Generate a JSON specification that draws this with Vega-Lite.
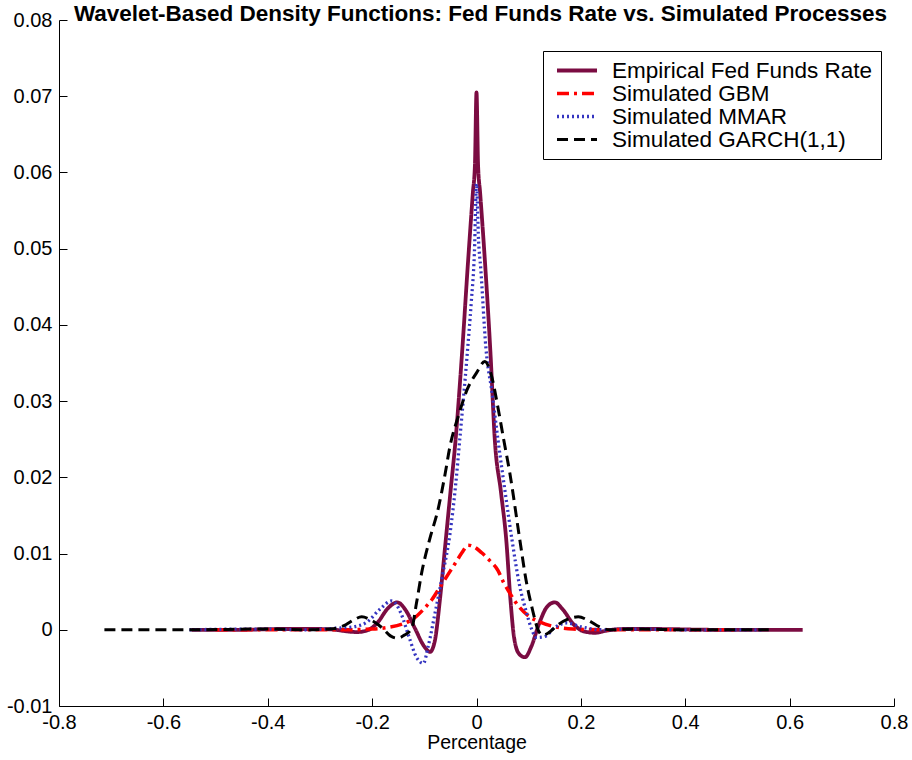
{
  "$schema": "https://vega.github.io/schema/vega-lite/v6.json",
  "width": 835,
  "height": 686,
  "autosize": {"type": "none"},
  "padding": {"top": 20, "left": 59, "right": 18, "bottom": 54},
  "background": "white",
  "title": {"text": "Wavelet-Based Density Functions: Fed Funds Rate vs. Simulated Processes", "fontSize": 22.5, "fontWeight": "bold", "font": "Liberation Sans", "offset": -33, "baseline": "alphabetic", "anchor": "middle", "dx": 4, "color": "black"},
  "config": {
    "view": {"stroke": null},
    "font": "Liberation Sans",
    "axis": {"domainColor": "black", "tickColor": "black", "labelColor": "black", "titleColor": "black", "grid": false, "domainWidth": 1, "tickWidth": 1, "labelFont": "Liberation Sans", "titleFont": "Liberation Sans"}
  },
  "data": {"values": [
    {"series":"Empirical Fed Funds Rate","x":-0.546,"y":0},
    {"series":"Empirical Fed Funds Rate","x":-0.45,"y":0},
    {"series":"Empirical Fed Funds Rate","x":-0.38,"y":0.0001},
    {"series":"Empirical Fed Funds Rate","x":-0.3,"y":0.0001},
    {"series":"Empirical Fed Funds Rate","x":-0.27,"y":0},
    {"series":"Empirical Fed Funds Rate","x":-0.25,"y":-0.0002},
    {"series":"Empirical Fed Funds Rate","x":-0.229,"y":-0.0003},
    {"series":"Empirical Fed Funds Rate","x":-0.21,"y":-0.0001},
    {"series":"Empirical Fed Funds Rate","x":-0.19,"y":0.0009},
    {"series":"Empirical Fed Funds Rate","x":-0.17,"y":0.0028},
    {"series":"Empirical Fed Funds Rate","x":-0.152,"y":0.0036},
    {"series":"Empirical Fed Funds Rate","x":-0.135,"y":0.0025},
    {"series":"Empirical Fed Funds Rate","x":-0.118,"y":0.0002},
    {"series":"Empirical Fed Funds Rate","x":-0.1,"y":-0.0022},
    {"series":"Empirical Fed Funds Rate","x":-0.089,"y":-0.0029},
    {"series":"Empirical Fed Funds Rate","x":-0.08,"y":-0.0015},
    {"series":"Empirical Fed Funds Rate","x":-0.07,"y":0.004},
    {"series":"Empirical Fed Funds Rate","x":-0.06,"y":0.011},
    {"series":"Empirical Fed Funds Rate","x":-0.05,"y":0.018},
    {"series":"Empirical Fed Funds Rate","x":-0.04,"y":0.025},
    {"series":"Empirical Fed Funds Rate","x":-0.028,"y":0.036},
    {"series":"Empirical Fed Funds Rate","x":-0.016,"y":0.0485},
    {"series":"Empirical Fed Funds Rate","x":-0.007,"y":0.0573},
    {"series":"Empirical Fed Funds Rate","x":-0.003,"y":0.061},
    {"series":"Empirical Fed Funds Rate","x":0,"y":0.0705},
    {"series":"Empirical Fed Funds Rate","x":0.003,"y":0.061},
    {"series":"Empirical Fed Funds Rate","x":0.007,"y":0.0573},
    {"series":"Empirical Fed Funds Rate","x":0.016,"y":0.0485},
    {"series":"Empirical Fed Funds Rate","x":0.027,"y":0.036},
    {"series":"Empirical Fed Funds Rate","x":0.035,"y":0.025},
    {"series":"Empirical Fed Funds Rate","x":0.047,"y":0.018},
    {"series":"Empirical Fed Funds Rate","x":0.057,"y":0.0118},
    {"series":"Empirical Fed Funds Rate","x":0.065,"y":0.004},
    {"series":"Empirical Fed Funds Rate","x":0.072,"y":-0.001},
    {"series":"Empirical Fed Funds Rate","x":0.082,"y":-0.0032},
    {"series":"Empirical Fed Funds Rate","x":0.093,"y":-0.0036},
    {"series":"Empirical Fed Funds Rate","x":0.105,"y":-0.0022},
    {"series":"Empirical Fed Funds Rate","x":0.12,"y":0.0008},
    {"series":"Empirical Fed Funds Rate","x":0.135,"y":0.003},
    {"series":"Empirical Fed Funds Rate","x":0.15,"y":0.0036},
    {"series":"Empirical Fed Funds Rate","x":0.165,"y":0.0027},
    {"series":"Empirical Fed Funds Rate","x":0.185,"y":0.0008},
    {"series":"Empirical Fed Funds Rate","x":0.205,"y":-0.0002},
    {"series":"Empirical Fed Funds Rate","x":0.227,"y":-0.0004},
    {"series":"Empirical Fed Funds Rate","x":0.25,"y":-0.0001},
    {"series":"Empirical Fed Funds Rate","x":0.28,"y":0.0001},
    {"series":"Empirical Fed Funds Rate","x":0.35,"y":0.0001},
    {"series":"Empirical Fed Funds Rate","x":0.45,"y":0},
    {"series":"Empirical Fed Funds Rate","x":0.625,"y":0},

    {"series":"Simulated GBM","x":-0.5,"y":0},
    {"series":"Simulated GBM","x":-0.35,"y":0},
    {"series":"Simulated GBM","x":-0.25,"y":0},
    {"series":"Simulated GBM","x":-0.2,"y":0.0001},
    {"series":"Simulated GBM","x":-0.17,"y":0.0003},
    {"series":"Simulated GBM","x":-0.14,"y":0.0008},
    {"series":"Simulated GBM","x":-0.12,"y":0.0015},
    {"series":"Simulated GBM","x":-0.1,"y":0.0028},
    {"series":"Simulated GBM","x":-0.085,"y":0.004},
    {"series":"Simulated GBM","x":-0.07,"y":0.0056},
    {"series":"Simulated GBM","x":-0.055,"y":0.0072},
    {"series":"Simulated GBM","x":-0.04,"y":0.0088},
    {"series":"Simulated GBM","x":-0.028,"y":0.0101},
    {"series":"Simulated GBM","x":-0.016,"y":0.0111},
    {"series":"Simulated GBM","x":-0.005,"y":0.0109},
    {"series":"Simulated GBM","x":0.01,"y":0.0101},
    {"series":"Simulated GBM","x":0.025,"y":0.0091},
    {"series":"Simulated GBM","x":0.041,"y":0.0078},
    {"series":"Simulated GBM","x":0.052,"y":0.0062},
    {"series":"Simulated GBM","x":0.064,"y":0.0048},
    {"series":"Simulated GBM","x":0.075,"y":0.0036},
    {"series":"Simulated GBM","x":0.083,"y":0.0029},
    {"series":"Simulated GBM","x":0.1,"y":0.0018},
    {"series":"Simulated GBM","x":0.122,"y":0.001},
    {"series":"Simulated GBM","x":0.15,"y":0.0004},
    {"series":"Simulated GBM","x":0.185,"y":0.0001},
    {"series":"Simulated GBM","x":0.25,"y":0},
    {"series":"Simulated GBM","x":0.35,"y":0},
    {"series":"Simulated GBM","x":0.5,"y":0},

    {"series":"Simulated MMAR","x":-0.55,"y":0},
    {"series":"Simulated MMAR","x":-0.42,"y":0.0001},
    {"series":"Simulated MMAR","x":-0.33,"y":0},
    {"series":"Simulated MMAR","x":-0.27,"y":0.0002},
    {"series":"Simulated MMAR","x":-0.235,"y":0.0004},
    {"series":"Simulated MMAR","x":-0.21,"y":0.001},
    {"series":"Simulated MMAR","x":-0.185,"y":0.0027},
    {"series":"Simulated MMAR","x":-0.162,"y":0.0038},
    {"series":"Simulated MMAR","x":-0.145,"y":0.0022},
    {"series":"Simulated MMAR","x":-0.13,"y":-0.0008},
    {"series":"Simulated MMAR","x":-0.115,"y":-0.0036},
    {"series":"Simulated MMAR","x":-0.102,"y":-0.0044},
    {"series":"Simulated MMAR","x":-0.092,"y":-0.002},
    {"series":"Simulated MMAR","x":-0.08,"y":0.002},
    {"series":"Simulated MMAR","x":-0.065,"y":0.0072},
    {"series":"Simulated MMAR","x":-0.051,"y":0.0125},
    {"series":"Simulated MMAR","x":-0.04,"y":0.019},
    {"series":"Simulated MMAR","x":-0.032,"y":0.025},
    {"series":"Simulated MMAR","x":-0.018,"y":0.036},
    {"series":"Simulated MMAR","x":-0.01,"y":0.043},
    {"series":"Simulated MMAR","x":-0.004,"y":0.0495},
    {"series":"Simulated MMAR","x":0,"y":0.0585},
    {"series":"Simulated MMAR","x":0.004,"y":0.051},
    {"series":"Simulated MMAR","x":0.008,"y":0.0475},
    {"series":"Simulated MMAR","x":0.018,"y":0.037},
    {"series":"Simulated MMAR","x":0.03,"y":0.031},
    {"series":"Simulated MMAR","x":0.041,"y":0.025},
    {"series":"Simulated MMAR","x":0.055,"y":0.018},
    {"series":"Simulated MMAR","x":0.068,"y":0.0118},
    {"series":"Simulated MMAR","x":0.082,"y":0.006},
    {"series":"Simulated MMAR","x":0.096,"y":0.0022},
    {"series":"Simulated MMAR","x":0.105,"y":0.0002},
    {"series":"Simulated MMAR","x":0.115,"y":-0.001},
    {"series":"Simulated MMAR","x":0.13,"y":-0.0009},
    {"series":"Simulated MMAR","x":0.15,"y":0.0003},
    {"series":"Simulated MMAR","x":0.173,"y":0.0009},
    {"series":"Simulated MMAR","x":0.2,"y":0.0004},
    {"series":"Simulated MMAR","x":0.24,"y":0},
    {"series":"Simulated MMAR","x":0.3,"y":0.0001},
    {"series":"Simulated MMAR","x":0.4,"y":0},
    {"series":"Simulated MMAR","x":0.55,"y":0},

    {"series":"Simulated GARCH(1,1)","x":-0.713,"y":0},
    {"series":"Simulated GARCH(1,1)","x":-0.55,"y":0},
    {"series":"Simulated GARCH(1,1)","x":-0.4,"y":0.0001},
    {"series":"Simulated GARCH(1,1)","x":-0.32,"y":0},
    {"series":"Simulated GARCH(1,1)","x":-0.28,"y":0.0001},
    {"series":"Simulated GARCH(1,1)","x":-0.255,"y":0.0005},
    {"series":"Simulated GARCH(1,1)","x":-0.235,"y":0.0013},
    {"series":"Simulated GARCH(1,1)","x":-0.22,"y":0.0017},
    {"series":"Simulated GARCH(1,1)","x":-0.2,"y":0.0012},
    {"series":"Simulated GARCH(1,1)","x":-0.18,"y":0.0002},
    {"series":"Simulated GARCH(1,1)","x":-0.165,"y":-0.0008},
    {"series":"Simulated GARCH(1,1)","x":-0.152,"y":-0.0011},
    {"series":"Simulated GARCH(1,1)","x":-0.138,"y":-0.0007},
    {"series":"Simulated GARCH(1,1)","x":-0.124,"y":0.0002},
    {"series":"Simulated GARCH(1,1)","x":-0.115,"y":0.0035},
    {"series":"Simulated GARCH(1,1)","x":-0.105,"y":0.0075},
    {"series":"Simulated GARCH(1,1)","x":-0.09,"y":0.0118},
    {"series":"Simulated GARCH(1,1)","x":-0.073,"y":0.016},
    {"series":"Simulated GARCH(1,1)","x":-0.06,"y":0.0205},
    {"series":"Simulated GARCH(1,1)","x":-0.051,"y":0.024},
    {"series":"Simulated GARCH(1,1)","x":-0.035,"y":0.028},
    {"series":"Simulated GARCH(1,1)","x":-0.018,"y":0.0315},
    {"series":"Simulated GARCH(1,1)","x":0,"y":0.0337},
    {"series":"Simulated GARCH(1,1)","x":0.016,"y":0.0352},
    {"series":"Simulated GARCH(1,1)","x":0.028,"y":0.0335},
    {"series":"Simulated GARCH(1,1)","x":0.041,"y":0.0292},
    {"series":"Simulated GARCH(1,1)","x":0.052,"y":0.025},
    {"series":"Simulated GARCH(1,1)","x":0.064,"y":0.0205},
    {"series":"Simulated GARCH(1,1)","x":0.083,"y":0.0118},
    {"series":"Simulated GARCH(1,1)","x":0.095,"y":0.0065},
    {"series":"Simulated GARCH(1,1)","x":0.106,"y":0.003},
    {"series":"Simulated GARCH(1,1)","x":0.118,"y":0},
    {"series":"Simulated GARCH(1,1)","x":0.127,"y":-0.0007},
    {"series":"Simulated GARCH(1,1)","x":0.138,"y":-0.0004},
    {"series":"Simulated GARCH(1,1)","x":0.155,"y":0.0006},
    {"series":"Simulated GARCH(1,1)","x":0.175,"y":0.0014},
    {"series":"Simulated GARCH(1,1)","x":0.195,"y":0.0017},
    {"series":"Simulated GARCH(1,1)","x":0.215,"y":0.0012},
    {"series":"Simulated GARCH(1,1)","x":0.235,"y":0.0004},
    {"series":"Simulated GARCH(1,1)","x":0.255,"y":0},
    {"series":"Simulated GARCH(1,1)","x":0.3,"y":0.0001},
    {"series":"Simulated GARCH(1,1)","x":0.4,"y":0},
    {"series":"Simulated GARCH(1,1)","x":0.56,"y":0}
  ]},
  "mark": {"type": "line", "strokeCap": "butt", "strokeJoin": "round", "interpolate": "monotone"},
  "encoding": {
    "x": {"field": "x", "type": "quantitative",
      "scale": {"domain": [-0.8, 0.8], "nice": false, "zero": false},
      "axis": {"values": [-0.8, -0.6, -0.4, -0.2, 0, 0.2, 0.4, 0.6, 0.8], "title": "Percentage", "labelFontSize": 20, "titleFontSize": 19.5, "titleFontWeight": "normal", "tickSize": -8, "labelPadding": 14, "titlePadding": 1, "labelFlush": false, "labelOverlap": false, "labelExpr": "replace(format(datum.value, '.1~f'), '\u2212', '-')"}},
    "y": {"field": "y", "type": "quantitative",
      "scale": {"domain": [-0.01, 0.08], "nice": false, "zero": false},
      "axis": {"values": [-0.01, 0, 0.01, 0.02, 0.03, 0.04, 0.05, 0.06, 0.07, 0.08], "title": null, "labelFontSize": 20, "tickSize": -8, "labelPadding": 15, "labelFlush": false, "labelOverlap": false, "labelExpr": "replace(format(datum.value, '.2~f'), '\u2212', '-')"}},
    "color": {"field": "series", "type": "nominal",
      "scale": {"domain": ["Empirical Fed Funds Rate", "Simulated GBM", "Simulated MMAR", "Simulated GARCH(1,1)"], "range": ["#7B0C42", "#FF0000", "#3535C0", "#000000"]},
      "legend": {"title": null, "orient": "none", "legendX": 484, "legendY": 31, "strokeColor": "black", "fillColor": "white", "padding": 8, "symbolType": "stroke", "symbolSize": 1600, "symbolOffset": 4, "clipHeight": 23, "labelFontSize": 22.5, "labelFont": "Liberation Sans", "labelColor": "black", "labelOffset": 13, "labelLimit": 400, "rowPadding": 0}},
    "strokeDash": {"field": "series", "type": "nominal",
      "scale": {"domain": ["Empirical Fed Funds Rate", "Simulated GBM", "Simulated MMAR", "Simulated GARCH(1,1)"], "range": [[1, 0], [12, 5, 3, 5], [2, 3], [11, 6]]},
      "legend": {"title": null}},
    "strokeWidth": {"field": "series", "type": "nominal",
      "scale": {"domain": ["Empirical Fed Funds Rate", "Simulated GBM", "Simulated MMAR", "Simulated GARCH(1,1)"], "range": [3.8, 3, 1.8, 3]},
      "legend": {"title": null}}
  }
}
